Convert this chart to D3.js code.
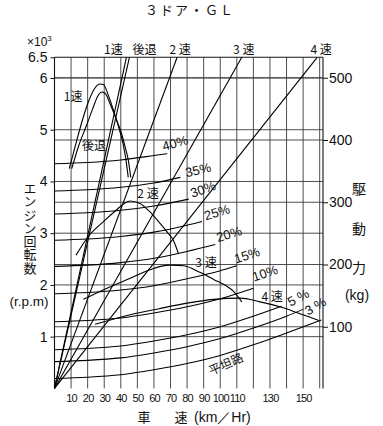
<!DOCTYPE html>
<html><head><meta charset="utf-8">
<script src="https://cdn.jsdelivr.net/npm/d3@7"></script>
<style>body{margin:0;background:#fff}svg{display:block}</style>
</head><body>
<script>
// ---------- data ----------
const speedTicks = [10,20,30,40,50,60,70,80,90,100,110,130,150];
const speedGrid = [10,20,30,40,50,60,70,80,90,100,110,120,130,140,150,160];
const rpmTicks = [1,2,3,4,5,6,6.5];
const rpmTickLabels = ["1","2","3","4","5","6","6.5"];
const kgTicks = [100,200,300,400,500];

// engine-speed lines: km/h reached at 6500 rpm in each gear
const gearNames = ["1速","後退","2 速","3 速","4 速"];
const gearTopSpeed = [43.4, 45.2, 74.0, 113.0, 158.5];

// driving force curves [km/h, kg]
const force1st = [[8.9,354],[13,395],[17.4,437],[21,465],[24,482],[27.5,490],[29.5,489],[33,468],[36.5,440],[39,418],[41.3,395],[43,370],[44.5,340]];
const forceRev = [[10.4,354],[14.5,390],[19.4,424],[23,450],[26,470],[28.5,477],[30.5,475],[34,455],[37.5,432],[40.5,410],[42.5,390],[44.5,368],[46,340]];
const force2nd = [[13,215],[20.4,245],[30,270],[37.5,288],[42,298],[45.6,302],[51.6,298],[57,286],[63.7,266],[68,252],[71.7,239],[74.7,218]];
const force3rd = [[17.4,144],[30,160],[45,177],[57,191],[64,197],[70,199],[78,198],[88,187],[96,176],[104,165],[108,157],[113,140]];
const force4th = [[24.5,104],[42,117],[63,129],[80,138],[96,144],[112,146],[124,140],[136,132],[147,122],[159.5,110]];

// running resistance curves [km/h, kg]
const grade40 = [[0,362],[20,364],[40,368],[60,375],[68,378]];
const grade35 = [[0,318],[20,320],[40,324],[60,331],[76,340]];
const grade30 = [[0,281],[20,283],[40,287],[60,294],[81,305]];
const grade25 = [[0,239],[20,241],[40,245],[60,252],[80,263],[89,269]];
const grade20 = [[0,197],[20,199],[40,203],[60,210],[80,221],[97,232]];
const grade15 = [[0,153],[20,155],[40,159],[60,166],[80,177],[100,190],[110,198]];
const grade10 = [[0,108],[20,110],[40,114],[60,122],[80,132],[100,145],[120,162]];
const grade5  = [[0,63],[20,65],[40,69],[60,77],[80,87],[100,100],[120,117],[137,133]];
const grade3  = [[0,44],[20,46],[40,50],[60,58],[80,68],[100,81],[120,98],[140,117],[150,128]];
const gradeFlat = [[0,17],[20,19],[40,23],[60,31],[80,41],[100,54],[120,71],[140,90],[161,111]];
const gradeLabels = ["40%","35%","30%","25%","20%","15%","10%","5 %","3 %","平坦路"];

// ---------- layout ----------
const W = 383, H = 426;
const NUM = "'Liberation Sans Narrow','Liberation Sans',Arial,sans-serif";
const SANS = "'Liberation Sans',Arial,sans-serif";
const JP = "'Noto Sans CJK JP','Noto Sans CJK SC',sans-serif";
const INK = "#111";

const x = d3.scaleLinear().domain([0,162]).range([54.5,323]);
const yR = d3.scaleLinear().domain([0,6,6.5]).range([388.4,78,57.3]);
const yK = d3.scaleLinear().domain([0,500]).range([389,77.75]);

const svg = d3.select("body").append("svg").attr("width",W).attr("height",H);
svg.append("rect").attr("width",W).attr("height",H).attr("fill","#fff");

const pTop = yR(6.5), pBottom = yR(0), pLeft = x(0), pRight = x(162);

// grid
const grid = svg.append("g").attr("stroke","#3a3a3a").attr("stroke-width",0.9).attr("fill","none");
speedGrid.forEach(v => grid.append("line").attr("x1",x(v)).attr("x2",x(v)).attr("y1",pTop).attr("y2",pBottom));
rpmTicks.filter(d=>d<6.5).forEach(r => grid.append("line").attr("x1",pLeft).attr("x2",pRight).attr("y1",yR(r)).attr("y2",yR(r)));
kgTicks.forEach(k => grid.append("line").attr("x1",pLeft).attr("x2",pRight).attr("y1",yK(k)).attr("y2",yK(k)));
grid.append("line").attr("x1",pLeft).attr("x2",pRight).attr("y1",pTop).attr("y2",pTop).attr("stroke",INK).attr("stroke-width",1.1);
grid.append("line").attr("x1",pLeft).attr("x2",pLeft).attr("y1",pTop).attr("y2",pBottom).attr("stroke",INK).attr("stroke-width",1.1);
grid.append("line").attr("x1",pRight).attr("x2",pRight).attr("y1",pTop).attr("y2",pBottom).attr("stroke",INK).attr("stroke-width",1.1);

// axes
function styleAxis(g, font, size){
  g.select(".domain").remove();
  g.selectAll("line").attr("stroke",INK);
  g.selectAll("text").attr("font-family",font).attr("font-size",size).attr("fill",INK);
}
svg.append("g").attr("transform",`translate(${pLeft},0)`)
  .call(d3.axisLeft(yR).tickValues(rpmTicks).tickFormat((d,i)=>rpmTickLabels[i]).tickSize(4).tickPadding(3))
  .call(g=>styleAxis(g,NUM,14));
svg.append("g").attr("transform",`translate(${pRight},0)`)
  .call(d3.axisRight(yK).tickValues(kgTicks).tickSize(5).tickPadding(1))
  .call(g=>styleAxis(g,NUM,14));
svg.append("g").attr("transform",`translate(0,${pBottom})`)
  .call(d3.axisBottom(x).tickValues(speedTicks).tickSize(0).tickPadding(6))
  .call(g=>styleAxis(g,NUM,11))
  .call(g=>g.selectAll("text").attr("letter-spacing",-0.8));

// gear rpm lines
const rpmLine = d3.line().x(d=>x(d[0])).y(d=>yR(d[1]));
gearTopSpeed.forEach(v => {
  svg.append("path").attr("d", rpmLine([[0,0],[v,6.5]]))
    .attr("fill","none").attr("stroke","#000").attr("stroke-width",1.1);
});

// curves
const kgLine = d3.line().x(d=>x(d[0])).y(d=>yK(d[1])).curve(d3.curveMonotoneX);
const grades = [grade40,grade35,grade30,grade25,grade20,grade15,grade10,grade5,grade3,gradeFlat];
grades.forEach(s => svg.append("path").attr("d",kgLine(s)).attr("fill","none").attr("stroke","#000").attr("stroke-width",1.05));
[force1st,forceRev,force2nd,force3rd,force4th].forEach(s =>
  svg.append("path").attr("d",kgLine(s)).attr("fill","none").attr("stroke","#000").attr("stroke-width",1.1));

// grade labels (annotation anchors in data units: km/h, kg; angle)
const gradeAnno = [[72.7,395,-16],[86.6,352,-13],[89.6,321,-19],[98,284,-17],[105.3,249,-17],[116.2,215,-18],[127,186,-18],[147,147,-28],[157.4,133,-30],[103.5,40,-24]];
gradeLabels.forEach((t,i) => {
  const [v,k,a] = gradeAnno[i];
  const isJP = /[^\x00-\x7F]/.test(t);
  svg.append("text").attr("transform",`translate(${x(v)},${yK(k)}) rotate(${a})`)
    .attr("text-anchor","middle").attr("dy","0.35em")
    .attr("font-family", isJP ? JP : SANS).attr("font-size", isJP ? 12 : 13).attr("fill",INK).text(t);
});

// gear labels on the force curves
const gearAnno = [[11.2,469],[23.8,390],[56.4,313],[91.4,202],[131.3,148]];
gearNames.forEach((t,i) => {
  const [v,k] = gearAnno[i];
  svg.append("text").attr("x",x(v)).attr("y",yK(k)).attr("dy","0.35em").attr("text-anchor","middle")
    .attr("font-family",JP).attr("font-size",12).attr("fill",INK).text(t);
});
// gear labels above the top edge at each line's end
gearNames.forEach((t,i) => {
  const shift = [-13, 15, 3, 2, 4][i];
  svg.append("text").attr("x",x(gearTopSpeed[i])+shift).attr("y",54).attr("text-anchor","middle")
    .attr("font-family",JP).attr("font-size",12).attr("fill",INK).text(t);
});

// titles
svg.append("text").attr("x",190).attr("y",15).attr("text-anchor","middle")
  .attr("font-family",JP).attr("font-size",13).attr("letter-spacing",2).attr("fill",INK).text("３ドア・ＧＬ");
const e = svg.append("text").attr("x",27).attr("y",46).attr("font-family",SANS).attr("font-size",12).attr("fill",INK);
e.append("tspan").text("×10");
e.append("tspan").attr("font-size",8).attr("dy",-5).text("3");
svg.append("text").attr("x",29).attr("y",306).attr("text-anchor","middle")
  .attr("font-family",SANS).attr("font-size",13.5).attr("fill",INK).text("(r.p.m)");
svg.append("text").attr("x",30).attr("y",181.5)
  .style("writing-mode","vertical-rl").attr("letter-spacing",0.3)
  .attr("font-family",JP).attr("font-size",13).attr("fill",INK).text("エンジン回転数");
"駆動力".split("").forEach((c,i) => svg.append("text").attr("x",359).attr("y",189+i*39.5).attr("dy","0.38em")
  .attr("text-anchor","middle").attr("font-family",JP).attr("font-size",14).attr("fill",INK).text(c));
svg.append("text").attr("x",357).attr("y",300).attr("text-anchor","middle")
  .attr("font-family",SANS).attr("font-size",14).attr("fill",INK).text("(kg)");
svg.append("text").attr("x",144).attr("y",422).attr("text-anchor","middle")
  .attr("font-family",JP).attr("font-size",13).attr("fill",INK).text("車");
svg.append("text").attr("x",181).attr("y",422).attr("text-anchor","middle")
  .attr("font-family",JP).attr("font-size",13).attr("fill",INK).text("速");
svg.append("text").attr("x",194).attr("y",422)
  .attr("font-family",SANS).attr("font-size",14).attr("fill",INK).text("(km／Hr)");
</script>
</body></html>
